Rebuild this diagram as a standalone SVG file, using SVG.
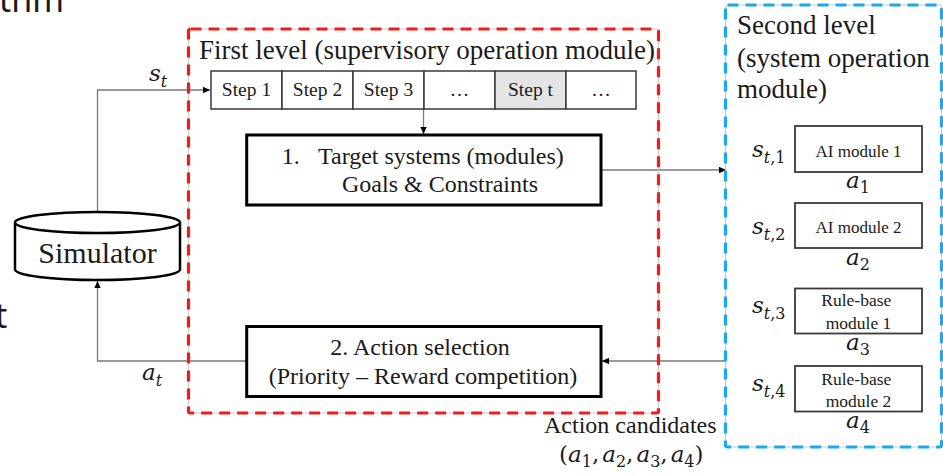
<svg xmlns="http://www.w3.org/2000/svg" width="943" height="476" viewBox="0 0 943 476">
  <style>
    .serif { font-family: "Liberation Serif", "Times New Roman", "DejaVu Serif", serif; fill: #1a1a1a; }
    .math { font-family: "DejaVu Serif", "Liberation Serif", serif; font-style: italic; fill: #1a1a1a; font-size: 23px; }
    .sub { font-size: 16px; }
    .up { font-style: normal; }
    .it { font-style: italic; }
    .sans { font-family: "Noto Sans", "Open Sans", sans-serif; fill: #1a1a1a; }
    .frame-under { fill: none; stroke: #c8c8c8; stroke-width: 1; }
    .red-dash { fill: none; stroke: #f01c1c; stroke-width: 3.2; stroke-dasharray: 11 7; }
    .blue-dash { fill: none; stroke: #1aa8ee; stroke-width: 3.2; stroke-dasharray: 11 7; }
    .thick { fill: #ffffff; stroke: #000000; stroke-width: 3; }
    .cell { fill: #ffffff; stroke: #3a3a3a; stroke-width: 1.5; }
    .cell-hl { fill: #e4e4e4; stroke: #3a3a3a; stroke-width: 1.5; }
    .module { fill: #ffffff; stroke: #3a3a3a; stroke-width: 1.8; }
    .wire { fill: none; stroke: #7a7a7a; stroke-width: 1.3; }
  </style>
  <defs>
    <marker id="arrow" markerUnits="userSpaceOnUse" markerWidth="8" markerHeight="8" refX="7" refY="4" orient="auto">
      <path d="M0,0.8 L7,4 L0,7.2 Z" fill="#000000"/>
    </marker>
  </defs>

  <rect width="943" height="476" fill="#ffffff"/>

  <!-- slide text running off the edges -->
  <text class="sans" x="-1" y="12" font-size="34">thm</text>
  <text class="sans" x="-5" y="328" font-size="34">t</text>

  <!-- connectors -->
  <g id="connectors">
    <path class="wire" d="M97.5,212 V90 H210" marker-end="url(#arrow)"/>
    <path class="wire" d="M423.5,109 V134" marker-end="url(#arrow)"/>
    <path class="wire" d="M601,170 H726" marker-end="url(#arrow)"/>
    <path class="wire" d="M726,361 H602" marker-end="url(#arrow)"/>
    <path class="wire" d="M246.7,361 H97.5 V281" marker-end="url(#arrow)"/>
  </g>

  <!-- first level container -->
  <g id="first-level">
    <rect class="frame-under" x="188.5" y="29" width="470" height="384" rx="2"/>
    <rect class="red-dash" x="188.5" y="29" width="470" height="384" rx="2"/>
    <text class="serif" x="199" y="59" font-size="27">First level (supervisory operation module)</text>
  </g>

  <!-- second level container -->
  <g id="second-level">
    <rect class="frame-under" x="725.5" y="5" width="216" height="442" rx="2"/>
    <rect class="blue-dash" x="725.5" y="5" width="216" height="442" rx="2"/>
    <text class="serif" font-size="27">
      <tspan x="737" y="34">Second level</tspan>
      <tspan x="737" y="67">(system operation</tspan>
      <tspan x="737" y="98">module)</tspan>
    </text>
  </g>

  <!-- simulator -->
  <g id="simulator">
    <path d="M15,222.5 V269.5 A82.5,10.5 0 0 0 180,269.5 V222.5" fill="#ffffff" stroke="#000000" stroke-width="2.5"/>
    <ellipse cx="97.5" cy="222.5" rx="82.5" ry="10.5" fill="#ffffff" stroke="#000000" stroke-width="2.5"/>
    <text class="serif" x="97.5" y="263" font-size="30" text-anchor="middle">Simulator</text>
  </g>

  <g id="label-st">
    <text class="math" x="149" y="81">s<tspan class="sub" dy="6">t</tspan></text>
  </g>
  <g id="label-at">
    <text class="math" x="142" y="380">a<tspan class="sub" dy="6">t</tspan></text>
  </g>

  <!-- step sequence -->
  <g id="steps" class="serif" font-size="19.5" text-anchor="middle">
    <rect class="cell" x="211" y="71" width="71" height="38"/>
    <rect class="cell" x="282" y="71" width="71" height="38"/>
    <rect class="cell" x="353" y="71" width="71" height="38"/>
    <rect class="cell" x="424" y="71" width="71" height="38"/>
    <rect class="cell-hl" x="495" y="71" width="71" height="38"/>
    <rect class="cell" x="566" y="71" width="70" height="38"/>
    <text x="246.5" y="96">Step 1</text>
    <text x="317.5" y="96">Step 2</text>
    <text x="388.5" y="96">Step 3</text>
    <text x="459.5" y="96">…</text>
    <text x="530.5" y="96">Step t</text>
    <text x="601" y="96">…</text>
  </g>

  <!-- target systems -->
  <g id="target-systems">
    <rect class="thick" x="246.7" y="135" width="354.3" height="70"/>
    <text class="serif" font-size="24">
      <tspan x="281.7" y="163.5">1.</tspan>
      <tspan x="318" y="163.5">Target systems (modules)</tspan>
      <tspan x="342" y="192">Goals &amp; Constraints</tspan>
    </text>
  </g>

  <!-- action selection -->
  <g id="action-selection">
    <rect class="thick" x="246.7" y="326.5" width="354.3" height="70"/>
    <text class="serif" font-size="24" text-anchor="middle">
      <tspan x="423" y="354.5">2. Action selection</tspan>
      <tspan x="423" y="383.5">(Priority – Reward competition)</tspan>
    </text>
  </g>

  <!-- second level modules -->
  <g id="ai-module-1">
    <rect class="module" x="795" y="126" width="127" height="46"/>
    <text class="serif" x="858.5" y="156.5" font-size="17" text-anchor="middle">AI module 1</text>
    <text class="math" x="752" y="157">s<tspan class="sub" dy="6">t<tspan class="up">,1</tspan></tspan></text>
    <text class="math" x="846" y="188">a<tspan class="sub up" dy="5">1</tspan></text>
  </g>
  <g id="ai-module-2">
    <rect class="module" x="795" y="203" width="127" height="45"/>
    <text class="serif" x="858.5" y="233" font-size="17" text-anchor="middle">AI module 2</text>
    <text class="math" x="752" y="234">s<tspan class="sub" dy="6">t<tspan class="up">,2</tspan></tspan></text>
    <text class="math" x="846" y="265">a<tspan class="sub up" dy="5">2</tspan></text>
  </g>
  <g id="rule-module-1">
    <rect class="module" x="795" y="288.5" width="127" height="45"/>
    <text class="serif" font-size="17.5" text-anchor="middle">
      <tspan x="858.5" y="306">Rule-base</tspan>
      <tspan x="858.5" y="329">module 1</tspan>
    </text>
    <text class="math" x="752" y="313">s<tspan class="sub" dy="6">t<tspan class="up">,3</tspan></tspan></text>
    <text class="math" x="846" y="350">a<tspan class="sub up" dy="5">3</tspan></text>
  </g>
  <g id="rule-module-2">
    <rect class="module" x="795" y="366" width="127" height="45.5"/>
    <text class="serif" font-size="17.5" text-anchor="middle">
      <tspan x="858.5" y="385">Rule-base</tspan>
      <tspan x="858.5" y="406.5">module 2</tspan>
    </text>
    <text class="math" x="752" y="391">s<tspan class="sub" dy="6">t<tspan class="up">,4</tspan></tspan></text>
    <text class="math" x="846" y="428">a<tspan class="sub up" dy="5">4</tspan></text>
  </g>

  <!-- action candidates label -->
  <g id="action-candidates">
    <text class="serif" x="544" y="433" font-size="24">Action candidates</text>
    <text class="math up" x="559" y="462">(<tspan class="it">a</tspan><tspan class="sub" dy="5">1</tspan><tspan dy="-5">,</tspan><tspan class="it" dx="3">a</tspan><tspan class="sub" dy="5">2</tspan><tspan dy="-5">,</tspan><tspan class="it" dx="3">a</tspan><tspan class="sub" dy="5">3</tspan><tspan dy="-5">,</tspan><tspan class="it" dx="3">a</tspan><tspan class="sub" dy="5">4</tspan><tspan dy="-5">)</tspan></text>
  </g>
</svg>
